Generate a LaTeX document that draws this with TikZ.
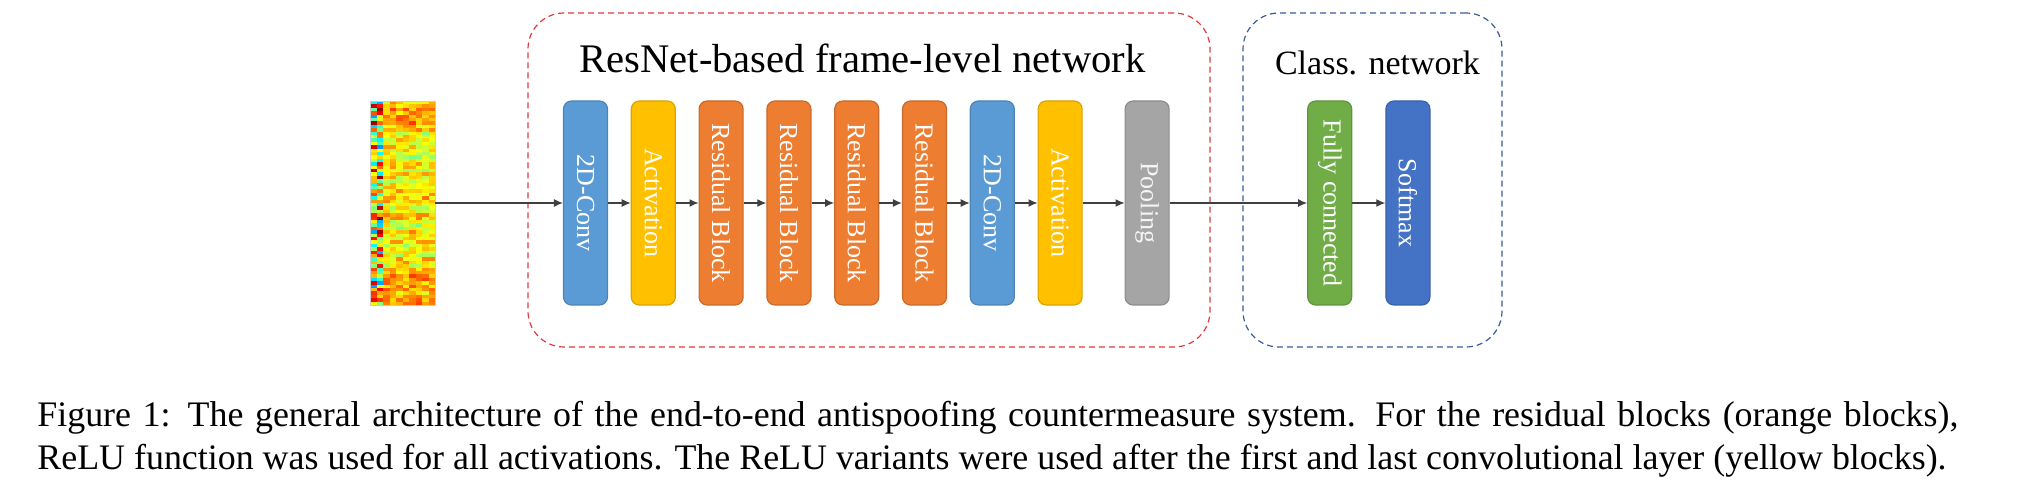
\documentclass[tikz,border=0pt]{standalone}
\usepackage{fontspec}
\setmainfont{Liberation Serif}
\usetikzlibrary{positioning, arrows.meta, calc}

\definecolor{convblue}{HTML}{5B9BD5}
\definecolor{actyellow}{HTML}{FFC000}
\definecolor{resorange}{HTML}{ED7D31}
\definecolor{poolgray}{HTML}{A5A5A5}
\definecolor{fcgreen}{HTML}{70AD47}
\definecolor{softblue}{HTML}{4472C4}
\definecolor{framered}{HTML}{E0393E}
\definecolor{frameblue}{HTML}{3A5A98}
\definecolor{arrowgray}{HTML}{404040}

\newcommand{\vtext}[1]{\rotatebox{-90}{#1}}

\begin{document}
\begin{tikzpicture}[x=1pt, y=1pt, node distance={33.9pt}, >={Latex[length=4.5pt, width=4pt]}]
                \tikzstyle{layer} = [rectangle, rounded corners=4pt, minimum width=22pt, minimum height=102pt, inner sep=0pt, line width=0.6pt, text=white, font=\fontsize{13}{15}\selectfont]
                \tikzstyle{groupbox} = [rectangle, rounded corners=18pt, dashed, dash pattern=on 3pt off 2pt, line width=0.6pt]
                \tikzstyle{grouptitle} = [inner sep=0pt]
                \tikzstyle{capline} = [inner sep=0pt, font=\fontsize{17.95}{20}\selectfont]
                \tikzstyle{flow} = [->, arrowgray, line width=0.6pt]

                \useasboundingbox (0,0) rectangle (1014.5,249);

                % Group frames (dashed)
                \node[groupbox, draw=framered, minimum width=341pt, minimum height=167pt] (resnetbox) at (434.5,159) {};
                \node[groupbox, draw=frameblue, minimum width=129.5pt, minimum height=167pt] (classbox) at (686.25,159) {};
                \node[grouptitle, anchor=base, font=\fontsize{20.3}{23}\selectfont] (resnettitle) at (431.25,212.5) {ResNet-based frame-level network};
                \node[grouptitle, anchor=base, font=\fontsize{17}{20}\selectfont] (classtitle) at (688.75,211.5) {Class. network};

                % Input spectrogram
                \pgfmathsetseed{11}
                \foreach \j in {0,...,59}{
                    \pgfmathsetmacro\rowoff{0.05*rand + ((\j<9 || \j>50) ? 0.07 : 0)}
                    \foreach \i in {0,...,9}{
                        \pgfmathsetmacro\v{(\i<2) ? 0.62+0.36*rand : 0.63+0.09*rand+\rowoff}
                        \pgfmathsetmacro\v{min(max(\v,0),1)}
                        \pgfmathsetmacro\jr{min(max(1.5-abs(4*\v-3),0),1)}
                        \pgfmathsetmacro\jg{min(max(1.5-abs(4*\v-2),0),1)}
                        \pgfmathsetmacro\jb{min(max(1.5-abs(4*\v-1),0),1)}
                        \definecolor{cellc}{rgb}{\jr,\jg,\jb}
                        \fill[cellc] (185+\i*3.25,96.5+\j*1.7) rectangle ++(3.25,1.7);
                    }
                }
                \node[draw=gray!40, line width=0.4pt, minimum width=32.5pt, minimum height=102pt, inner sep=0pt] (spec) at (201.25,147.5) {};

                % Frame-level layers
                \node[layer, fill=convblue, draw=convblue!85!black] (conv1) at (292.75,147.5) {\vtext{2D-Conv}};
                \node[layer, fill=actyellow, draw=actyellow!85!black] (act1) [right of=conv1] {\vtext{Activation}};
                \node[layer, fill=resorange, draw=resorange!85!black] (res1) [right of=act1] {\vtext{Residual Block}};
                \node[layer, fill=resorange, draw=resorange!85!black] (res2) [right of=res1] {\vtext{Residual Block}};
                \node[layer, fill=resorange, draw=resorange!85!black] (res3) [right of=res2] {\vtext{Residual Block}};
                \node[layer, fill=resorange, draw=resorange!85!black] (res4) [right of=res3] {\vtext{Residual Block}};
                \node[layer, fill=convblue, draw=convblue!85!black] (conv2) [right of=res4] {\vtext{2D-Conv}};
                \node[layer, fill=actyellow, draw=actyellow!85!black] (act2) [right of=conv2] {\vtext{Activation}};
                \node[layer, fill=poolgray, draw=poolgray!85!black, text=white!92!gray] (pool) [right of=act2, xshift=9.6pt] {\vtext{Pooling}};

                % Classification layers
                \node[layer, fill=fcgreen, draw=fcgreen!85!black] (fc) at (664.85,147.5) {\vtext{Fully connected}};
                \node[layer, fill=softblue, draw=softblue!85!black] (softmax) [right of=fc, xshift=5.2pt] {\vtext{Softmax}};

                \draw[flow] (spec) -- (conv1);
                \draw[flow] (conv1) -- (act1);
                \draw[flow] (act1) -- (res1);
                \draw[flow] (res1) -- (res2);
                \draw[flow] (res2) -- (res3);
                \draw[flow] (res3) -- (res4);
                \draw[flow] (res4) -- (conv2);
                \draw[flow] (conv2) -- (act2);
                \draw[flow] (act2) -- (pool);
                \draw[flow] (pool) -- (fc);
                \draw[flow] (fc) -- (softmax);

                % Caption
                \node[capline, anchor=base west] (caption1) at (18.5,35.5) {\hbox to 960.5pt{Figure 1: The general architecture of the end-to-end antispoofing countermeasure system. For the residual blocks (orange blocks),}};
                \node[capline, anchor=base west] (caption2) at (18.5,14.5) {ReLU function was used for all activations. The ReLU variants were used after the first and last convolutional layer (yellow blocks).};
            \end{tikzpicture}
\end{document}
